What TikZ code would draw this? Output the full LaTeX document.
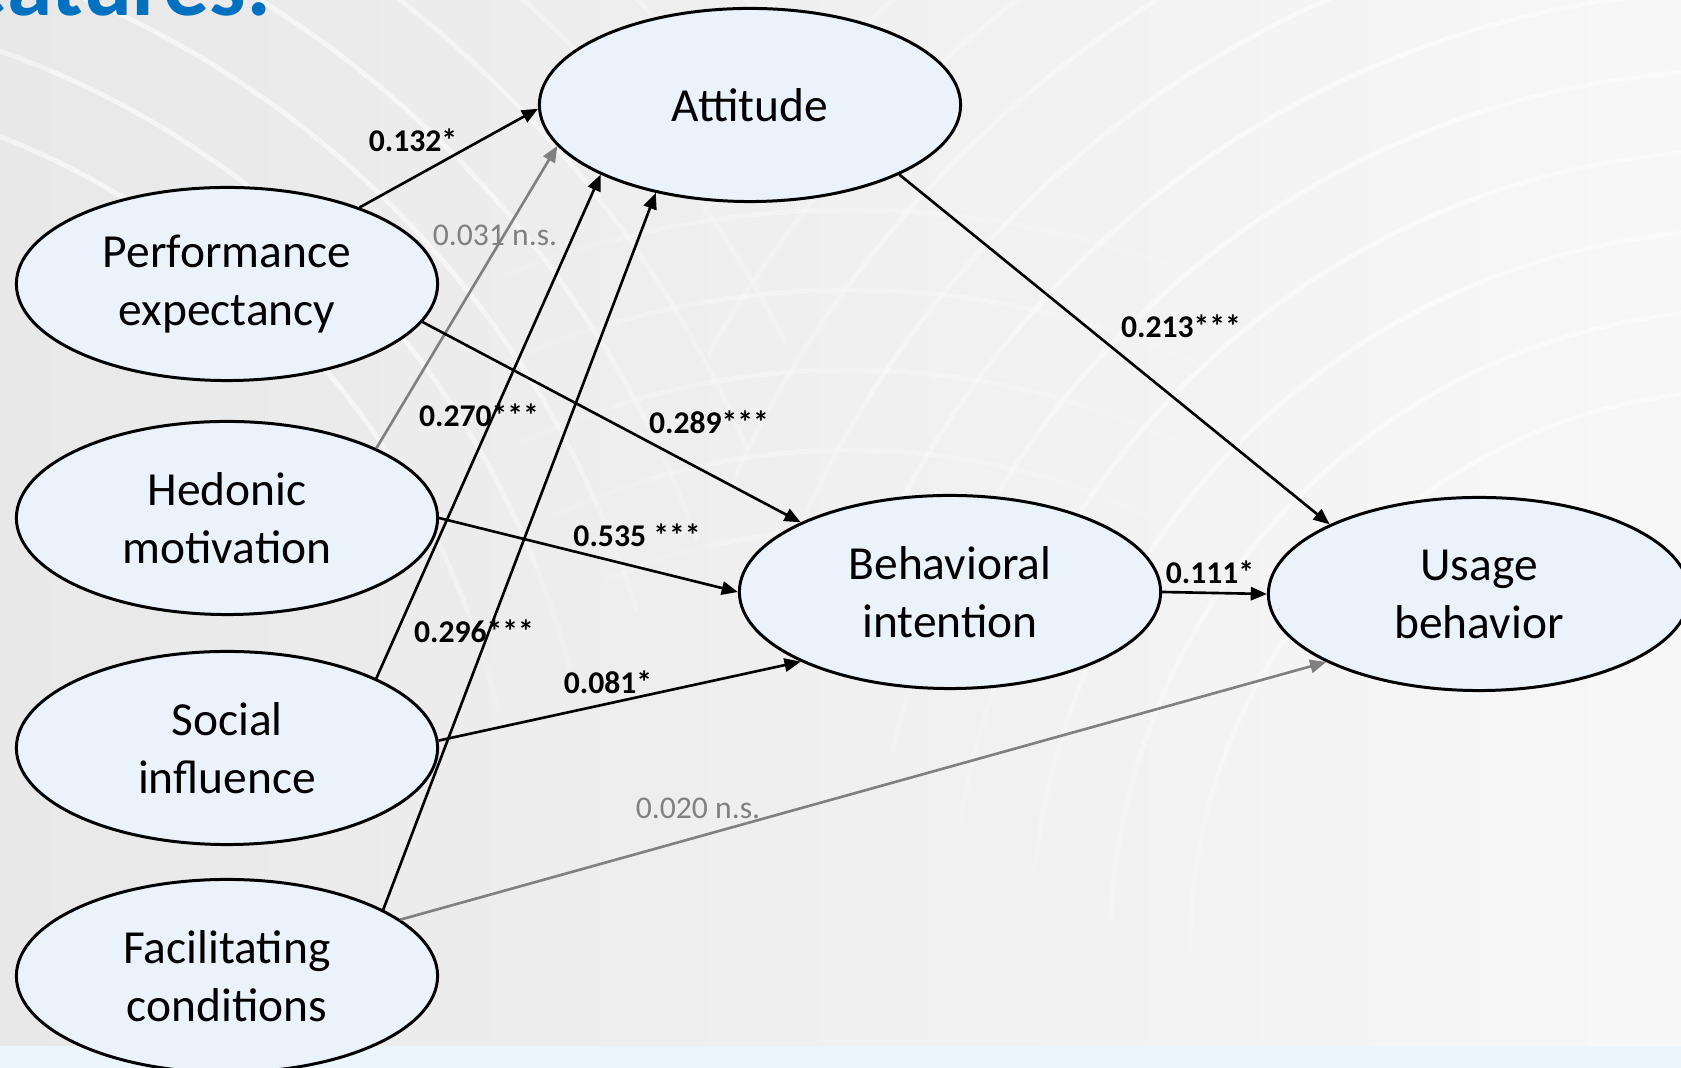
\documentclass[tikz,border=0pt]{standalone}
\usepackage{fontspec}
\setmainfont{Carlito}
\usetikzlibrary{arrows.meta,shapes.geometric}

\definecolor{ovalfill}{HTML}{EAF3FC}
\definecolor{titleblue}{HTML}{0070C0}
\definecolor{stripblue}{HTML}{EAF6FC}

\tikzset{
  construct/.style={ellipse, draw=black, line width=0.85pt, fill=ovalfill,
    minimum width=4.21cm, minimum height=1.93cm, inner sep=0pt, align=center,
    font=\fontsize{13.5}{16.5}\selectfont},
  sig/.style={draw=black, line width=0.75pt, -{Triangle[length=4.6pt,width=3.8pt]}},
  ns/.style={draw=gray, line width=0.75pt, -{Triangle[length=4.6pt,width=3.8pt]}},
  coef/.style={font=\fontsize{9}{11}\selectfont\bfseries, inner sep=1pt},
  nscoef/.style={font=\fontsize{9}{11}\selectfont, text=gray, inner sep=1pt},
  ring/.style={white, opacity=0.2, line width=1.4pt}
}

\begin{document}
\begin{tikzpicture}[x=0.01cm,y=-0.01cm]
  \useasboundingbox (0,0) rectangle (1681,1068);
  \clip (0,0) rectangle (1681,1068);
  % background
  \shade[left color=black!9, right color=black!3] (0,0) rectangle (1681,1068);
  \foreach \R in {250,350,450,550} {
    \begin{scope}
      \clip (250,220) circle (\R);
      \foreach \r in {820,900,...,1380}
        \draw[ring] (-300,900) circle (\r);
    \end{scope}
  }
  \foreach \R in {150,250,350} {
    \begin{scope}
      \clip (850,330) circle (\R);
      \foreach \r in {620,700,...,1000}
        \draw[ring, opacity=0.15] (850,1150) circle (\r);
    \end{scope}
  }
  \foreach \R in {300,450,600,750} {
    \begin{scope}
      \clip (1450,250) circle (\R);
      \foreach \r in {560,640,...,1360}
        \draw[ring] (1750,950) circle (\r);
    \end{scope}
  }
  \fill[stripblue] (0,1046) rectangle (1681,1068);
  \node[anchor=base east, inner sep=0pt, text=titleblue,
    font=\fontsize{26}{30}\selectfont\bfseries] (title) at (272,16) {features:};

  % constructs
  \node[construct] (att) at (750,105) {Attitude};
  \node[construct] (pe) at (227,284) {Performance\\expectancy};
  \node[construct] (hm) at (227,518) {Hedonic\\motivation};
  \node[construct] (si) at (227,748) {Social\\influence};
  \node[construct] (fc) at (227,976) {Facilitating\\conditions};
  \node[construct] (bi) at (950,592) {Behavioral\\intention};
  \node[construct] (ub) at (1479,594) {Usage\\behavior};

  % paths
  \draw[sig] (pe.30) -- (att.181);
  \draw[ns] (hm.25) -- (att.192);
  \draw[sig] (si.25) -- (att.205);
  \draw[sig] (fc.23) -- (att.223);
  \draw[sig] (pe.-11) -- (bi.155);
  \draw[sig] (hm.0) -- (bi.180);
  \draw[sig] (si.2) -- (bi.205);
  \draw[ns] (fc.18) -- (ub.204);
  \draw[sig] (att.-25) -- (ub.155);
  \draw[sig] (bi.east) -- (ub.west);

  % coefficients
  \node[coef] (c132) at (413,140) {0.132*};
  \node[nscoef] (c031) at (495,235) {0.031 n.s.};
  \node[coef] (c270) at (479,415) {0.270***};
  \node[coef] (c296) at (474,631) {0.296***};
  \node[coef] (c289) at (709,422) {0.289***};
  \node[coef] (c535) at (637,535) {0.535 ***};
  \node[coef] (c081) at (608,682) {0.081*};
  \node[nscoef] (c020) at (698,808) {0.020 n.s.};
  \node[coef] (c213) at (1181,326) {0.213***};
  \node[coef] (c111) at (1210,572) {0.111*};
\end{tikzpicture}
\end{document}
